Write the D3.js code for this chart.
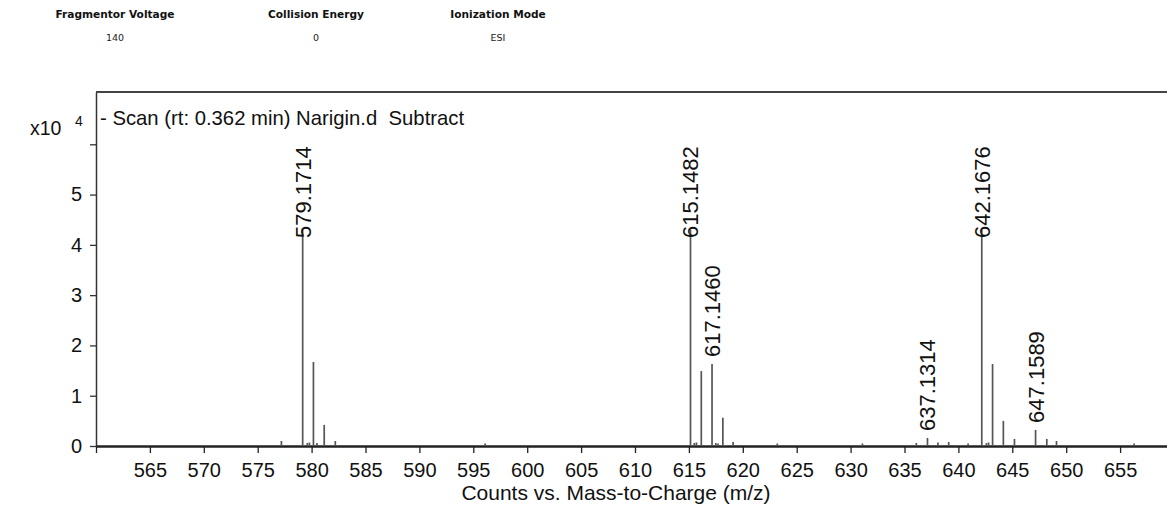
<!DOCTYPE html>
<html>
<head>
<meta charset="utf-8">
<script src="https://cdn.jsdelivr.net/npm/d3@7"></script>
<style>
  body { margin: 0; background: #fff; overflow: hidden; }
  svg { display: block; }
</style>
</head>
<body>
<div id="chart"></div>
<script>
// header fields
const headerNames = ["Fragmentor Voltage", "Collision Energy", "Ionization Mode"];
const headerValues = ["140", "0", "ESI"];

// spectrum (m/z, counts x10^4)
const peakMz = [577.2, 579.1714, 579.6, 579.8, 580.17, 580.5, 581.17, 582.2, 596.1,
  615.1482, 615.5, 615.7, 616.15, 617.146, 617.5, 617.7, 618.15, 619.1, 623.2, 631.1,
  636.1, 637.1314, 638.1, 639.1, 640.9, 642.1676, 642.6, 642.8, 643.17, 644.17, 645.2,
  647.1589, 648.2, 649.1, 656.3];
const peakInt = [0.1, 4.3, 0.06, 0.07, 1.67, 0.06, 0.42, 0.1, 0.05,
  4.3, 0.06, 0.07, 1.49, 1.63, 0.06, 0.05, 0.56, 0.08, 0.05, 0.05,
  0.06, 0.16, 0.07, 0.08, 0.05, 4.3, 0.06, 0.07, 1.63, 0.5, 0.14,
  0.32, 0.14, 0.1, 0.05];
const labelMz = [579.1714, 615.1482, 617.1460, 637.1314, 642.1676, 647.1589];

const xTicks = d3.range(560, 656, 5);
const yTicks = [0, 1, 2, 3, 4, 5, 6];

const W = 1167, H = 510;
const svg = d3.select("#chart").append("svg").attr("width", W).attr("height", H);

// header table
const hx = [115, 316, 498];
headerNames.forEach((n, i) => {
  svg.append("text").attr("x", hx[i]).attr("y", 18).attr("text-anchor", "middle")
    .style("font-family", "DejaVu Sans, Verdana").style("font-weight", "bold")
    .style("font-size", "10.6px").attr("fill", "#111").text(n);
  svg.append("text").attr("x", hx[i]).attr("y", 41).attr("text-anchor", "middle")
    .style("font-family", "DejaVu Sans, Verdana")
    .style("font-size", "9.5px").attr("fill", "#222").text(headerValues[i]);
});

const plotLeft = 96, plotTop = 92, plotBottom = 446;
const x = d3.scaleLinear().domain([560, 660]).range([plotLeft, plotLeft + 1078]);
const y = d3.scaleLinear().domain([0, 7.04]).range([plotBottom, plotTop]);

const font = "Liberation Sans, Arial, sans-serif";

// x axis
const xAxis = svg.append("g").attr("transform", `translate(0,${plotBottom})`)
  .call(d3.axisBottom(x).tickValues(xTicks).tickSize(7).tickSizeOuter(0)
    .tickFormat(d => d === 560 ? "" : d));
xAxis.select(".domain").attr("stroke", "#222").attr("stroke-width", 2.4);
xAxis.selectAll(".tick line").attr("stroke", "#222").attr("stroke-width", 1.3);
xAxis.selectAll(".tick text").attr("fill", "#111").attr("dy", "1.05em")
  .style("font-family", font).style("font-size", "20px");

// y axis
const yAxis = svg.append("g").attr("transform", `translate(${plotLeft},0)`)
  .call(d3.axisLeft(y).tickValues(yTicks).tickSize(6).tickSizeOuter(0)
    .tickFormat(d => d === 6 ? "" : d));
yAxis.select(".domain").attr("stroke", "#333").attr("stroke-width", 1.5);
yAxis.selectAll(".tick line").attr("stroke", "#333").attr("stroke-width", 1.3);
yAxis.selectAll(".tick text").attr("fill", "#111").attr("x", -14)
  .style("font-family", font).style("font-size", "20px");

// top border
svg.append("line").attr("x1", plotLeft).attr("x2", W).attr("y1", plotTop).attr("y2", plotTop)
  .attr("stroke", "#444").attr("stroke-width", 2);

// exponent label
svg.append("text").attr("x", 30).attr("y", 135).style("font-family", font)
  .style("font-size", "19.5px").attr("fill", "#111").text("x10");
svg.append("text").attr("x", 75).attr("y", 126).style("font-family", font)
  .style("font-size", "14px").attr("fill", "#111").text("4");

// title
svg.append("text").attr("x", 100).attr("y", 125).style("font-family", font)
  .style("font-size", "20.3px").style("white-space", "pre").attr("fill", "#111")
  .text("- Scan (rt: 0.362 min) Narigin.d  Subtract");

// peaks
const peaks = peakMz.map((m, i) => ({ mz: m, v: peakInt[i] }));
svg.append("g").selectAll("line").data(peaks).enter().append("line")
  .attr("x1", d => x(d.mz)).attr("x2", d => x(d.mz))
  .attr("y1", plotBottom).attr("y2", d => y(d.v))
  .attr("stroke", "#555").attr("stroke-width", 1.7);

// peak labels
svg.append("g").selectAll("text").data(labelMz).enter().append("text")
  .attr("transform", d => {
    const p = peaks.find(q => Math.abs(q.mz - d) < 0.01);
    const yy = Math.max(y(p.v) - 7, 238);
    return `translate(${x(d) + 8},${yy}) rotate(-90)`;
  })
  .style("font-family", font).style("font-size", "22px").attr("fill", "#111")
  .text(d => d.toFixed(4));

// axis title
svg.append("text").attr("x", 616).attr("y", 500).attr("text-anchor", "middle")
  .style("font-family", font).style("font-size", "21px").attr("fill", "#111")
  .text("Counts vs. Mass-to-Charge (m/z)");
</script>
</body>
</html>
